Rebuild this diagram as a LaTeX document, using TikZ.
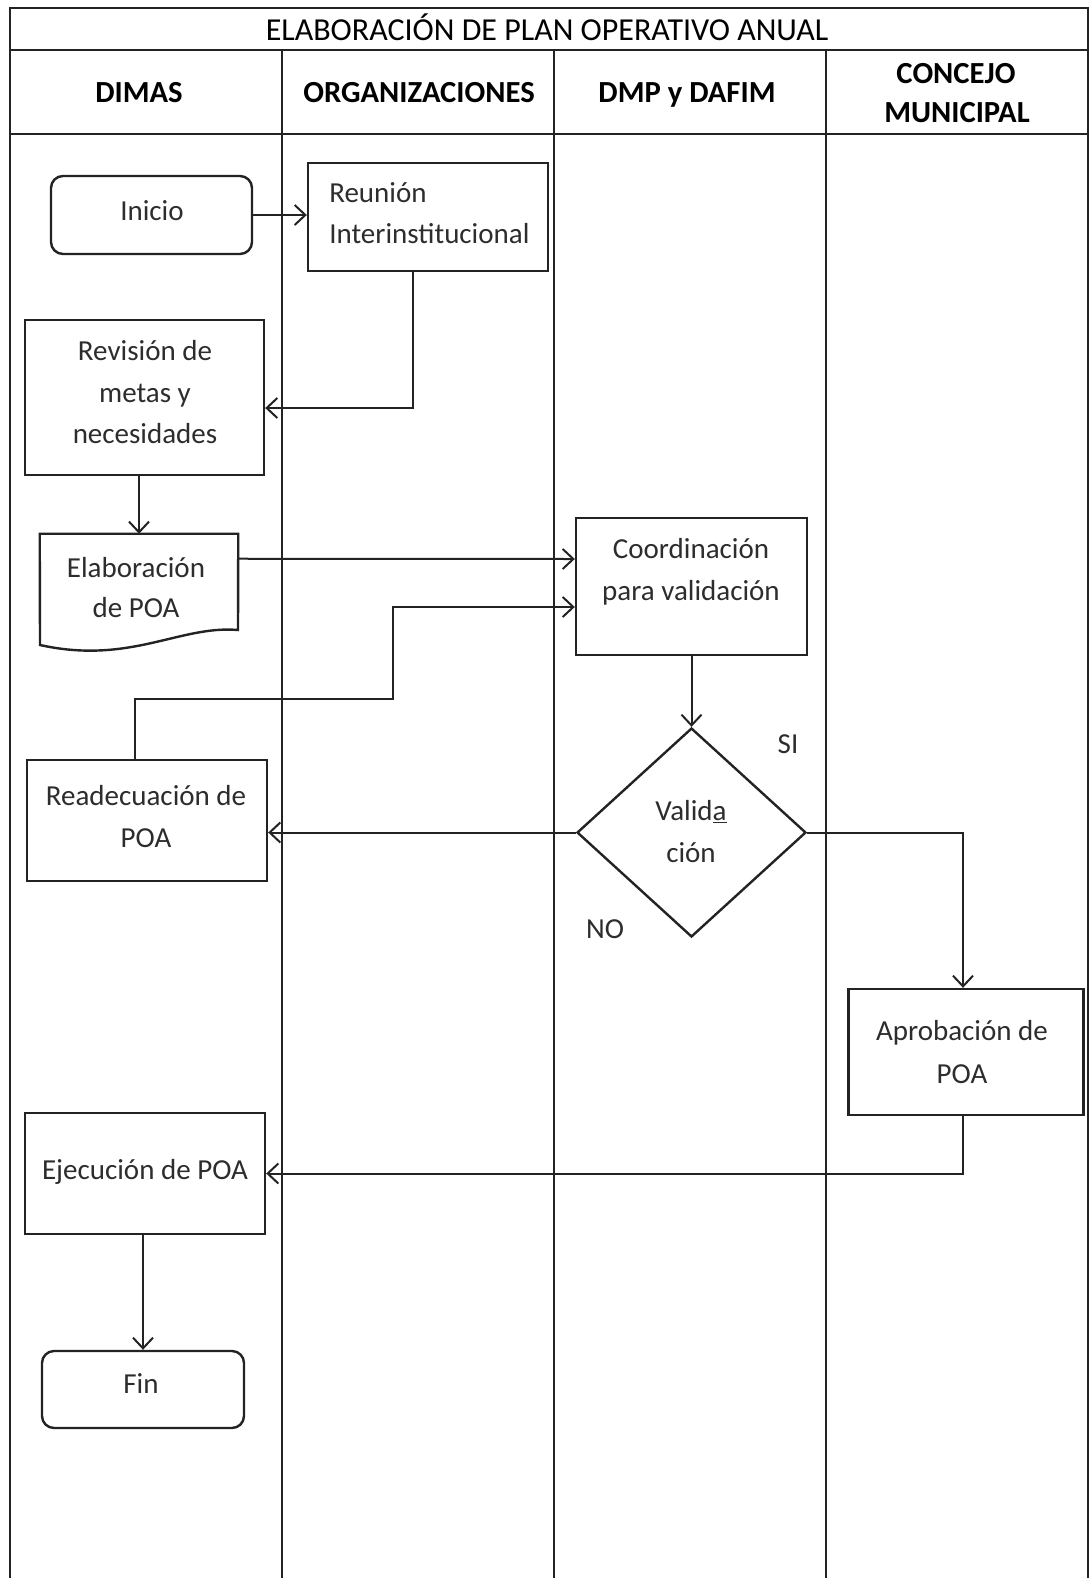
\documentclass[tikz,border=0pt]{standalone}
\usepackage{fontspec}
\setmainfont{Carlito}
\usetikzlibrary{arrows.meta,calc,shapes.geometric}
\definecolor{ln}{RGB}{35,35,35}
\definecolor{tx}{RGB}{45,45,45}
\begin{document}
\begin{tikzpicture}[x=0.75pt,y=-0.75pt,
  frame/.style={draw=ln,line width=2pt},
  box/.style 2 args={draw=ln,line width=1.8pt,inner sep=0pt,minimum width={#1*0.75pt},minimum height={#2*0.75pt}},
  rbox/.style 2 args={box={#1}{#2},rounded corners=9pt},
  ghost/.style 2 args={inner sep=0pt,minimum width={#1*0.75pt},minimum height={#2*0.75pt}},
  dia/.style 2 args={diamond,draw=ln,line width=1.8pt,inner sep=0pt,minimum width={#1*0.75pt},minimum height={#2*0.75pt}},
  txt/.style={anchor=base,inner sep=0pt,text=tx,font=\fontsize{21.75pt}{26pt}\selectfont},
  hdr/.style={anchor=base,inner sep=0pt,text=black,font=\fontsize{23pt}{28pt}\selectfont\bfseries},
  ttl/.style={anchor=base,inner sep=0pt,text=black,font=\fontsize{24pt}{28pt}\selectfont},
  arr/.style={draw=ln,line width=1.5pt,-{Straight Barb[length=8pt,width=15pt]}},
]
\useasboundingbox (0,0) rectangle (1090,1578);
\fill[white] (0,0) rectangle (1090,1578);

% swimlane frame
\draw[frame] (10,1578) -- (10,8) -- (1088,8) -- (1088,1578);
\draw[frame] (10,50) -- (1088,50);
\draw[frame] (10,134) -- (1088,134);
\draw[frame] (282,50) -- (282,1578);
\draw[frame] (554,50) -- (554,1578);
\draw[frame] (826,50) -- (826,1578);

% headers
\node[ttl] (t0) at (547,40) {ELABORACIÓN DE PLAN OPERATIVO ANUAL};
\node[hdr] (h1) at (139,102) {DIMAS};
\node[hdr] (h2) at (419,102) {ORGANIZACIONES};
\node[hdr] (h3) at (687,102) {DMP y DAFIM};
\node[hdr] (h4a) at (956,83) {CONCEJO};
\node[hdr] (h4b) at (957,122) {MUNICIPAL};

% shapes
\node[rbox={201}{78}] (ini) at (151.5,215) {};
\node[box={240}{108}] (reu) at (428,217) {};
\node[box={239}{155}] (rev) at (144.5,397.5) {};
\node[ghost={198}{96}] (elab) at (139,582) {};
\draw[ln,line width=1.8pt] (elab.north west) -- (elab.north east) -- (238,630)
  .. controls (180,625) and (130,665) .. (40,645) -- cycle;
\node[box={231}{137}] (coord) at (691.5,586.5) {};
\node[dia={229}{209}] (val) at (691.5,832.5) {};
\node[box={240}{121}] (read) at (147,820.5) {};
\node[box={235}{126}] (apro) at (966,1052) {};
\node[box={240}{121}] (ejec) at (145,1173.5) {};
\node[rbox={202}{77}] (fin) at (143,1389.5) {};

% texts
\node[txt] (ini1) at (152,220) {Inicio};
\node[txt,anchor=base west] (reu1) at (329,202) {Reunión};
\node[txt,anchor=base west] (reu2) at (329,243) {Interinstitucional};
\node[txt] (rev1) at (145,360) {Revisión de};
\node[txt] (rev2) at (145,402) {metas y};
\node[txt] (rev3) at (145,443) {necesidades};
\node[txt] (ela1) at (136,577) {Elaboración};
\node[txt] (ela2) at (136,617) {de POA};
\node[txt] (coo1) at (691,558) {Coordinación};
\node[txt] (coo2) at (691,600) {para validación};
\node[txt] (val1) at (691,820) {Valid\underline{a}};
\node[txt] (val2) at (691,862) {ción};
\node[txt] (si) at (788,753) {SI};
\node[txt] (no) at (605,938) {NO};
\node[txt] (rea1) at (146,805) {Readecuación de};
\node[txt] (rea2) at (146,847) {POA};
\node[txt] (apr1) at (962,1040) {Aprobación de};
\node[txt] (apr2) at (962,1083) {POA};
\node[txt] (eje1) at (145,1179) {Ejecución de POA};
\node[txt] (fin1) at (141,1393) {Fin};

% connectors
\draw[arr] (ini.east) -- (ini.east -| reu.west);
\draw[arr] ($(reu.south)+(-15,0)$) |- ($(rev.east)+(0,10.5)$);
\draw[arr] (rev.south -| elab.north) -- (elab.north);
\draw[arr] ($(elab.north east)+(0,25)$) -- ($(coord.west)+(0,-27.5)$);
\draw[arr] ($(read.north)+(-12,0)$) -- ++(0,-60) -- ++(258,0) |- ($(coord.west)+(0,20.5)$);
\draw[arr] (coord.south) -- (val.north);
\draw[arr] (val.west) -- (val.west -| read.east);
\draw[arr] (val.east) -| ($(apro.north)+(-3,0)$);
\draw[arr] ($(apro.south)+(-3,0)$) |- (ejec.east);
\draw[arr] (ejec.south -| fin.north) -- (fin.north);
\end{tikzpicture}
\end{document}
